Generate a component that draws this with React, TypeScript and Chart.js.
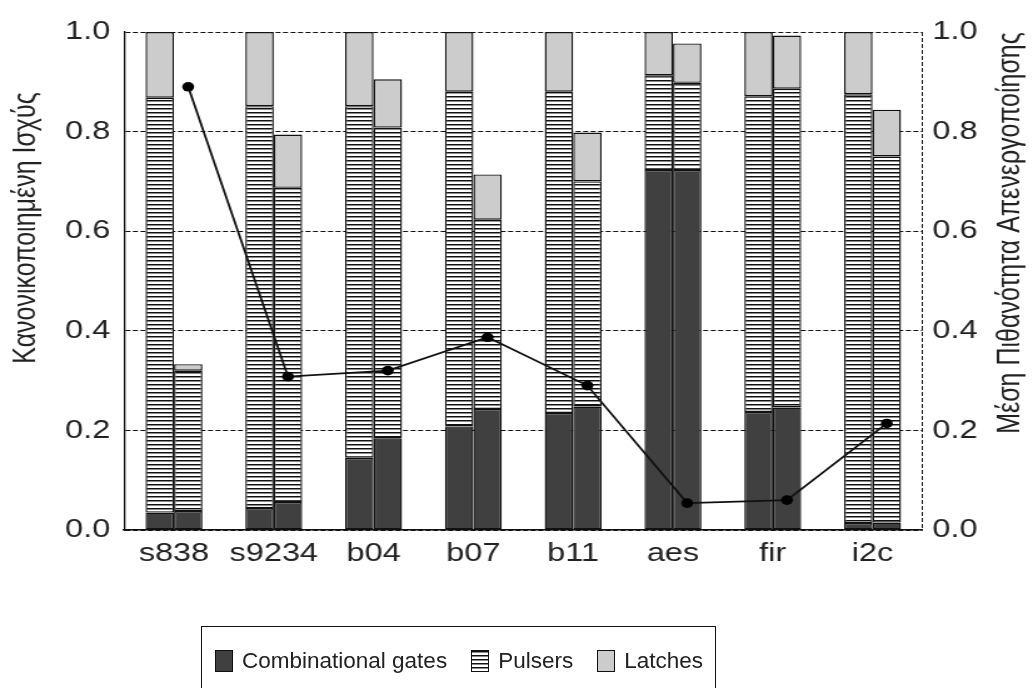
import React, { useEffect, useRef } from "react";
import { Chart, registerables } from "chart.js";

Chart.register(...registerables);

// ---------- data ----------
const categories = ["s838", "s9234", "b04", "b07", "b11", "aes", "fir", "i2c"];

// left bar of each pair
const combLeft = [0.035, 0.044, 0.145, 0.208, 0.235, 0.723, 0.237, 0.014];
const pulsLeft = [0.833, 0.807, 0.706, 0.672, 0.645, 0.19, 0.634, 0.861];
const latchLeft = [0.132, 0.149, 0.149, 0.12, 0.12, 0.087, 0.129, 0.125];

// right bar of each pair
const combRight = [0.038, 0.056, 0.184, 0.243, 0.248, 0.723, 0.246, 0.015];
const pulsRight = [0.282, 0.631, 0.624, 0.38, 0.452, 0.175, 0.64, 0.735];
const latchRight = [0.013, 0.107, 0.097, 0.091, 0.098, 0.079, 0.107, 0.094];

// mean deactivation probability (right axis)
const probability = [0.89, 0.308, 0.32, 0.387, 0.29, 0.054, 0.06, 0.214];

const seriesNames = ["Combinational gates", "Pulsers", "Latches"];
const leftTitle = "Κανονικοποιημένη Ισχύς";
const rightTitle = "Μέση Πιθανότητα Απενεργοποίησης";

// ---------- style ----------
const FONT = "'Liberation Sans', Arial, Helvetica, sans-serif";
const TEXT = "#222";
const CAT_PCT = 0.57; // share of a category taken by the pair of bars
// Chart.js 4.5 divides the group among every x-axis id used by a dataset (bars + line = 2)
const X_AXES_IN_USE = 2;
const COMB_COLOR = "#404040";
const LATCH_COLOR = "#cccccc";
const STRIPES_CSS =
  "repeating-linear-gradient(to bottom, #111 0px, #111 1px, #8a8a8a 1px, #8a8a8a 2px, #fff 2px, #fff 4px)";
// the reference figure is horizontally stretched; draw narrower and stretch with CSS
const VIEW_W = 1033;
const VIEW_H = 688;
const STRETCH = 1.25;
const CANVAS_W = Math.round(VIEW_W / STRETCH);

function makeStripes(): CanvasPattern | string {
  const c = document.createElement("canvas");
  c.width = 8;
  c.height = 4;
  const g = c.getContext("2d");
  if (!g) return "#999";
  g.fillStyle = "#ffffff";
  g.fillRect(0, 0, 8, 4);
  g.fillStyle = "#111111";
  g.fillRect(0, 0, 8, 1);
  g.fillStyle = "#8a8a8a";
  g.fillRect(0, 1, 8, 1);
  return g.createPattern(c, "repeat") || "#999";
}

const axisTitlePlugin = {
  id: "axisTitles",
  afterDraw(chart: any) {
    const ctx = chart.ctx;
    ctx.save();
    ctx.font = `25px ${FONT}`;
    ctx.fillStyle = TEXT;
    ctx.textAlign = "center";
    ctx.textBaseline = "middle";
    ctx.save();
    ctx.translate(21.6, 228);
    ctx.rotate(-Math.PI / 2);
    ctx.fillText(leftTitle, 0, 0);
    ctx.restore();
    ctx.save();
    ctx.translate(808, 233);
    ctx.rotate(-Math.PI / 2);
    ctx.fillText(rightTitle, 0, 0);
    ctx.restore();
    ctx.restore();
  },
};

const legendSwatches = [COMB_COLOR, STRIPES_CSS, LATCH_COLOR];

export default function App() {
  const ref = useRef<HTMLCanvasElement | null>(null);

  useEffect(() => {
    if (!ref.current) return;
    const stripes = makeStripes();
    const barCommon = {
      type: "bar" as const,
      borderColor: "#111",
      borderWidth: 1.4,
      borderSkipped: false as const,
      categoryPercentage: CAT_PCT * X_AXES_IN_USE,
      barPercentage: 1.0,
      xAxisID: "x",
      yAxisID: "y",
      order: 1,
    };
    const fills = [COMB_COLOR, stripes, LATCH_COLOR];
    const leftSets = [combLeft, pulsLeft, latchLeft];
    const rightSets = [combRight, pulsRight, latchRight];

    const datasets: any[] = [];
    // line first: its helper axis then comes first, which keeps the bar pair centred
    datasets.push({
      type: "line",
      label: "prob",
      data: probability.map((v, i) => ({ x: i + CAT_PCT / 4, y: v })),
      xAxisID: "xl",
      yAxisID: "y2",
      borderColor: "#111",
      borderWidth: 1.8,
      pointRadius: 4.8,
      pointBackgroundColor: "#000",
      pointBorderColor: "#000",
      pointBorderWidth: 0,
      fill: false,
      tension: 0,
      order: 0,
    });
    leftSets.forEach((d, i) =>
      datasets.push({ ...barCommon, label: seriesNames[i], data: d, backgroundColor: fills[i], stack: "L" })
    );
    rightSets.forEach((d, i) =>
      datasets.push({ ...barCommon, label: seriesNames[i] + " (R)", data: d, backgroundColor: fills[i], stack: "R" })
    );

    const tickFont = { family: FONT, size: 26 };

    const chart = new Chart(ref.current, {
      type: "bar",
      data: { labels: categories, datasets },
      plugins: [axisTitlePlugin],
      options: {
        responsive: false,
        animation: false,
        layout: { padding: { top: 32, left: 0, right: 0, bottom: 0 } },
        plugins: {
          tooltip: { enabled: false },
          legend: { display: false },
        },
        scales: {
          x: {
            type: "category",
            offset: true,
            grid: {
              offset: true,
              drawTicks: false,
              lineWidth: 1,
              color: (ctx: any) => (ctx.type === "scale" || ctx.index === undefined ? "#111" : "rgba(0,0,0,0)"),
            },
            border: { display: true, color: "#111", width: 1.5, dash: [4, 2] },
            ticks: { font: tickFont, color: TEXT, padding: 8 },
            afterFit: (s: any) => {
              s.height = VIEW_H - 530;
            },
          },
          xl: {
            type: "linear",
            display: false,
            offset: false,
            min: -0.5,
            max: 7.5,
          },
          y: {
            type: "linear",
            position: "left",
            stacked: true,
            min: 0,
            max: 1,
            ticks: {
              stepSize: 0.2,
              font: tickFont,
              color: TEXT,
              padding: 11,
              callback: (v: any) => Number(v).toFixed(1),
            },
            grid: { color: "#111", lineWidth: 1, drawTicks: false },
            border: { display: true, color: "#111", width: 1.3, dash: [4, 2] },
            afterFit: (s: any) => {
              s.width = 99.2;
            },
          },
          y2: {
            type: "linear",
            position: "right",
            min: 0,
            max: 1,
            ticks: {
              stepSize: 0.2,
              font: tickFont,
              color: TEXT,
              padding: 8,
              callback: (v: any) => Number(v).toFixed(1),
            },
            grid: { drawOnChartArea: false, drawTicks: false },
            border: { display: false },
            afterFit: (s: any) => {
              s.width = CANVAS_W - 737.6;
            },
          },
        },
      } as any,
    });
    return () => chart.destroy();
  }, []);

  return (
    <div
      style={{
        position: "absolute",
        left: 0,
        top: 0,
        width: VIEW_W,
        height: VIEW_H,
        background: "#fff",
        overflow: "hidden",
      }}
    >
      <canvas
        ref={ref}
        width={CANVAS_W}
        height={VIEW_H}
        style={{ display: "block", width: VIEW_W + "px", height: VIEW_H + "px" }}
      />
      <div
        style={{
          position: "absolute",
          left: 201,
          top: 626,
          width: 515,
          height: 120,
          boxSizing: "border-box",
          border: "1.5px solid #111",
          paddingLeft: 13,
          paddingTop: 21,
          display: "flex",
          alignItems: "flex-start",
          fontFamily: FONT,
          fontSize: 22.5,
          lineHeight: "26px",
          color: TEXT,
          whiteSpace: "nowrap",
        }}
      >
        {seriesNames.map((name, i) => (
          <div key={name} style={{ display: "flex", alignItems: "center", marginRight: i < 2 ? 24 : 0 }}>
            <span
              style={{
                display: "inline-block",
                width: 18,
                height: 22,
                boxSizing: "border-box",
                border: "1.5px solid #111",
                background: legendSwatches[i],
                marginRight: 9,
              }}
            />
            <span>{name}</span>
          </div>
        ))}
      </div>
    </div>
  );
}
